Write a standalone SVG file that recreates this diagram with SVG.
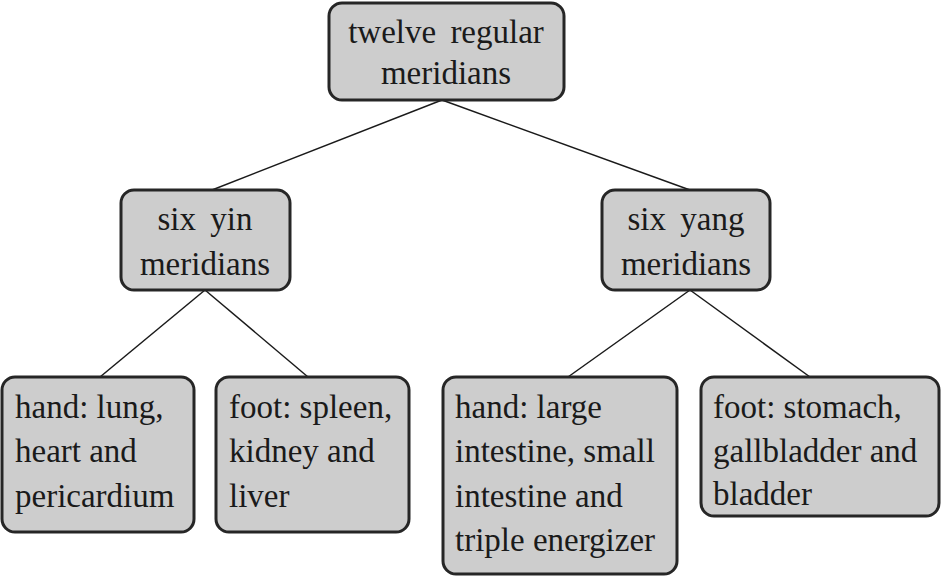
<svg xmlns="http://www.w3.org/2000/svg" width="941" height="577" viewBox="0 0 941 577">
<style>
.box{fill:#cdcdcd;stroke:#262626;stroke-width:3}
.t{font-family:'Times New Roman',Tinos,'Liberation Serif',serif;font-size:33px;fill:#1a1a1a}
.c{text-anchor:middle}
.ln{stroke:#1a1a1a;stroke-width:1.5;fill:none}
</style>
<rect width="941" height="577" fill="#ffffff"/>
<g id="connectors">
<line class="ln" x1="442" y1="100" x2="212" y2="190"/>
<line class="ln" x1="442" y1="100" x2="690" y2="190"/>
<line class="ln" x1="205" y1="290" x2="100" y2="377"/>
<line class="ln" x1="205" y1="290" x2="308" y2="377"/>
<line class="ln" x1="690" y1="290" x2="568" y2="377"/>
<line class="ln" x1="690" y1="290" x2="810" y2="377"/>
</g>
<g id="n_twelve">
<rect class="box" x="329" y="3" width="235" height="97" rx="13"/>
<text class="t c" x="446" y="43" style="word-spacing:6px">twelve regular</text>
<text class="t c" x="446" y="84">meridians</text>
</g>
<g id="n_yin">
<rect class="box" x="121" y="190" width="169" height="100" rx="13"/>
<text class="t c" x="205" y="230" style="word-spacing:6px">six yin</text>
<text class="t c" x="205" y="275">meridians</text>
</g>
<g id="n_yang">
<rect class="box" x="602" y="190" width="168" height="100" rx="13"/>
<text class="t c" x="686" y="230" style="word-spacing:6px">six yang</text>
<text class="t c" x="686" y="275">meridians</text>
</g>
<g id="n_hand_yin">
<rect class="box" x="2" y="377" width="192" height="155" rx="13"/>
<text class="t" x="15" y="418">hand: lung,</text>
<text class="t" x="15" y="462">heart and</text>
<text class="t" x="15" y="507">pericardium</text>
</g>
<g id="n_foot_yin">
<rect class="box" x="216" y="377" width="193" height="155" rx="13"/>
<text class="t" x="229" y="418">foot: spleen,</text>
<text class="t" x="229" y="462">kidney and</text>
<text class="t" x="229" y="507">liver</text>
</g>
<g id="n_hand_yang">
<rect class="box" x="443" y="377" width="234" height="197" rx="13"/>
<text class="t" x="455" y="418">hand: large</text>
<text class="t" x="455" y="462">intestine, small</text>
<text class="t" x="455" y="507">intestine and</text>
<text class="t" x="455" y="551">triple energizer</text>
</g>
<g id="n_foot_yang">
<rect class="box" x="701" y="377" width="238" height="139" rx="13"/>
<text class="t" x="713" y="418">foot: stomach,</text>
<text class="t" x="713" y="462">gallbladder and</text>
<text class="t" x="713" y="505">bladder</text>
</g>
</svg>
